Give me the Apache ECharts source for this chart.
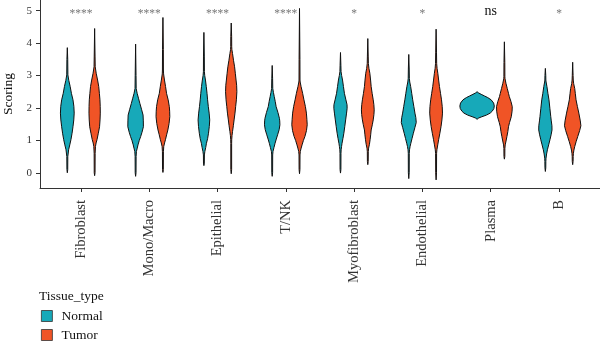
<!DOCTYPE html>
<html>
<head>
<meta charset="utf-8">
<script src="https://cdn.jsdelivr.net/npm/echarts@6/dist/echarts.min.js"></script>
<style>
  html, body { margin: 0; padding: 0; background: #fff; }
  #chart { width: 600px; height: 344px; }
</style>
</head>
<body>
<div id="chart"></div>
<script>
// Cell types along the x axis
const categories = ['Fibroblast', 'Mono/Macro', 'Epithelial', 'T/NK', 'Myofibroblast', 'Endothelial', 'Plasma', 'B'];
const groups = ['Normal', 'Tumor'];
// Normal vs Tumor test result for each cell type
const significance = ['****', '****', '****', '****', '*', '*', 'ns', '*'];
const yTicks = [0, 1, 2, 3, 4, 5];

// Density profile of each violin: [score, density] from the lowest to the highest score
const normalProfiles = [
  [[0.0,0],[0.1,0.05],[0.5,0.06],[0.71,0.16],[0.86,0.3],[1.02,0.44],[1.22,0.58],[1.42,0.69],[1.63,0.79],[1.84,0.84],[2.05,0.8],[2.25,0.69],[2.45,0.5],[2.66,0.35],[2.85,0.18],[3.02,0.07],[3.5,0.05],[3.86,0]],
  [[-0.11,0],[0,0.05],[0.5,0.06],[0.66,0.1],[0.76,0.2],[0.86,0.29],[1.0,0.45],[1.12,0.62],[1.25,0.78],[1.42,0.95],[1.6,0.94],[1.78,0.91],[1.96,0.72],[2.14,0.52],[2.3,0.35],[2.45,0.19],[2.6,0.07],[3.0,0.05],[3.97,0]],
  [[0.22,0],[0.3,0.05],[0.55,0.06],[0.66,0.12],[0.78,0.22],[0.91,0.31],[1.05,0.45],[1.22,0.56],[1.43,0.66],[1.63,0.71],[1.84,0.64],[2.04,0.54],[2.25,0.45],[2.45,0.38],[2.66,0.29],[2.86,0.19],[3.0,0.1],[3.12,0.06],[3.6,0.05],[4.33,0]],
  [[-0.11,0],[0,0.05],[0.55,0.06],[0.66,0.1],[0.78,0.22],[0.91,0.35],[1.04,0.5],[1.17,0.66],[1.33,0.85],[1.48,0.94],[1.6,0.92],[1.68,0.88],[1.86,0.7],[2.04,0.48],[2.2,0.37],[2.35,0.25],[2.48,0.15],[2.6,0.07],[2.9,0.05],[3.31,0]],
  [[-0.01,0],[0.1,0.05],[0.6,0.06],[0.71,0.08],[0.81,0.13],[0.91,0.19],[1.06,0.3],[1.22,0.41],[1.42,0.52],[1.63,0.63],[1.84,0.74],[1.99,0.81],[2.1,0.8],[2.25,0.66],[2.45,0.48],[2.66,0.36],[2.86,0.25],[3.0,0.14],[3.12,0.07],[3.3,0.05],[3.71,0]],
  [[-0.18,0],[0,0.05],[0.6,0.06],[0.71,0.09],[0.81,0.16],[0.91,0.25],[1.06,0.4],[1.22,0.56],[1.4,0.75],[1.55,0.91],[1.7,0.86],[1.84,0.75],[2.04,0.62],[2.25,0.48],[2.45,0.36],[2.66,0.23],[2.8,0.12],[2.91,0.07],[3.2,0.05],[3.65,0]],
  [[1.65,0],[1.69,0.2],[1.72,0.5],[1.78,1.15],[1.84,1.6],[1.9,1.85],[1.98,2.05],[2.06,2.1],[2.15,2.02],[2.25,1.72],[2.32,1.3],[2.37,0.9],[2.42,0.5],[2.46,0.2],[2.5,0]],
  [[0.04,0],[0.15,0.05],[0.35,0.06],[0.45,0.08],[0.58,0.15],[0.71,0.25],[0.86,0.4],[1.02,0.56],[1.17,0.7],[1.32,0.81],[1.45,0.8],[1.6,0.72],[1.73,0.66],[1.99,0.55],[2.25,0.44],[2.45,0.31],[2.66,0.19],[2.8,0.09],[2.86,0.06],[3.0,0.05],[3.22,0]]
];
const tumorProfiles = [
  [[-0.09,0],[0,0.05],[0.6,0.06],[0.81,0.1],[0.92,0.18],[1.02,0.29],[1.22,0.45],[1.42,0.6],[1.63,0.66],[1.84,0.69],[2.05,0.68],[2.25,0.65],[2.45,0.58],[2.66,0.5],[2.86,0.36],[3.07,0.19],[3.27,0.07],[3.6,0.05],[4.45,0]],
  [[0.01,0],[0.1,0.05],[0.65,0.06],[0.81,0.1],[0.92,0.2],[1.02,0.31],[1.17,0.45],[1.32,0.6],[1.52,0.75],[1.73,0.84],[1.9,0.82],[2.04,0.78],[2.25,0.64],[2.45,0.44],[2.66,0.32],[2.86,0.19],[3.05,0.08],[3.17,0.06],[3.8,0.05],[4.79,0]],
  [[-0.03,0],[0.1,0.05],[0.9,0.05],[1.02,0.06],[1.15,0.1],[1.27,0.16],[1.45,0.26],[1.63,0.35],[1.84,0.46],[2.04,0.54],[2.25,0.63],[2.5,0.69],[2.7,0.66],[2.86,0.59],[3.07,0.5],[3.27,0.41],[3.47,0.28],[3.68,0.16],[3.8,0.08],[3.89,0.06],[4.2,0.05],[4.62,0]],
  [[-0.03,0],[0.1,0.05],[0.55,0.06],[0.66,0.1],[0.76,0.2],[0.86,0.31],[1.0,0.48],[1.12,0.66],[1.3,0.85],[1.48,0.94],[1.65,0.9],[1.84,0.84],[2.04,0.72],[2.25,0.54],[2.45,0.38],[2.66,0.19],[2.8,0.08],[2.86,0.06],[3.5,0.05],[5.07,0]],
  [[0.25,0],[0.35,0.05],[0.65,0.06],[0.76,0.1],[0.88,0.2],[1.02,0.28],[1.17,0.35],[1.32,0.41],[1.48,0.55],[1.63,0.66],[1.8,0.75],[1.94,0.78],[2.1,0.74],[2.25,0.66],[2.45,0.53],[2.66,0.41],[2.86,0.34],[3.07,0.25],[3.22,0.14],[3.37,0.07],[3.6,0.05],[4.14,0]],
  [[-0.22,0],[0,0.05],[0.6,0.06],[0.71,0.1],[0.86,0.2],[1.02,0.31],[1.22,0.46],[1.42,0.6],[1.63,0.71],[1.84,0.78],[2.04,0.75],[2.25,0.66],[2.45,0.54],[2.66,0.41],[2.86,0.31],[3.07,0.21],[3.22,0.12],[3.37,0.07],[3.7,0.05],[4.43,0]],
  [[0.42,0],[0.5,0.05],[0.75,0.06],[0.86,0.1],[0.98,0.2],[1.12,0.31],[1.27,0.42],[1.42,0.5],[1.55,0.63],[1.73,0.84],[1.9,0.94],[2.04,0.96],[2.2,0.8],[2.35,0.6],[2.45,0.5],[2.6,0.35],[2.76,0.19],[2.9,0.08],[2.96,0.06],[3.4,0.05],[4.04,0]],
  [[0.25,0],[0.35,0.05],[0.5,0.06],[0.6,0.09],[0.7,0.15],[0.81,0.25],[0.96,0.42],[1.12,0.62],[1.3,0.85],[1.45,1.0],[1.6,0.93],[1.84,0.75],[2.04,0.58],[2.25,0.41],[2.45,0.32],[2.6,0.25],[2.75,0.12],[2.86,0.07],[3.0,0.05],[3.41,0]]
];

const FONT = 'Liberation Serif';
const COLORS = { Normal: '#17A9B9', Tumor: '#F05426' };
const DODGE = 0.2;               // horizontal offset of each group from the category centre
const WIDTH_PER_DENSITY = 0.12;  // half-width (x units) for one unit of density

function violinSeries(name, profiles, offset) {
  return {
    type: 'custom',
    name: name,
    itemStyle: { color: COLORS[name], borderColor: '#222', borderWidth: 0.8 },
    data: profiles.map((p, i) => [i + 1, p[p.length - 1][0]]),
    encode: { x: 0, y: 1 },
    renderItem: function (params, api) {
      const prof = profiles[params.dataIndex];
      const xc = api.value(0) + offset;
      const right = prof.map(([y, d]) => api.coord([xc + d * WIDTH_PER_DENSITY, y]));
      const left = prof.slice().reverse().map(([y, d]) => api.coord([xc - d * WIDTH_PER_DENSITY, y]));
      return {
        type: 'polygon',
        shape: { points: right.concat(left) },
        style: { fill: COLORS[name], stroke: '#111', lineWidth: 1 }
      };
    },
    silent: true
  };
}

const tickIdx = categories.map((c, i) => i + 1);
const axisLineStyle = { color: '#333', width: 1 };

const option = {
  animation: false,
  backgroundColor: '#fff',
  title: {
    text: 'Tissue_type',
    left: 39, top: 289, padding: 0,
    textStyle: { fontFamily: FONT, fontSize: 13.5, fontWeight: 'normal', color: '#111' }
  },
  legend: {
    data: groups,
    orient: 'vertical',
    left: 41, top: 309,
    padding: 0,
    itemWidth: 11, itemHeight: 11, itemGap: 5,
    icon: 'rect',
    itemStyle: { borderColor: '#333', borderWidth: 0.8 },
    textStyle: { fontFamily: FONT, fontSize: 13.5, color: '#111', padding: [0, 0, 0, 4] }
  },
  grid: { left: 40, right: 0, top: 0, bottom: 156, containLabel: false, outerBoundsMode: 'none' },
  xAxis: {
    type: 'value',
    min: 0.4, max: 8.6,
    axisLine: { show: true, onZero: false, lineStyle: axisLineStyle },
    axisTick: { show: true, length: 4, customValues: tickIdx, lineStyle: axisLineStyle },
    axisLabel: {
      customValues: tickIdx,
      formatter: v => categories[Math.round(v) - 1],
      rotate: 90, margin: 12,
      fontFamily: FONT, fontSize: 14.5, color: '#333'
    },
    splitLine: { show: false }
  },
  yAxis: {
    type: 'value',
    min: -0.47, max: 5.33,
    name: 'Scoring',
    nameLocation: 'middle', nameGap: 23,
    nameTextStyle: { fontFamily: FONT, fontSize: 13.5, color: '#111' },
    axisLine: { show: true, onZero: false, lineStyle: axisLineStyle },
    axisTick: { show: true, length: 4, customValues: yTicks, lineStyle: axisLineStyle },
    axisLabel: {
      customValues: yTicks, margin: 8,
      fontFamily: FONT, fontSize: 11, color: '#333'
    },
    splitLine: { show: false }
  },
  series: [
    violinSeries('Normal', normalProfiles, -DODGE),
    violinSeries('Tumor', tumorProfiles, DODGE),
    {
      type: 'custom',
      name: 'signif',
      data: significance.map((s, i) => [i + 1, 5]),
      encode: { x: 0, y: 1 },
      silent: true,
      renderItem: function (params, api) {
        const p = api.coord([api.value(0), api.value(1)]);
        const s = significance[params.dataIndex];
        const ns = s === 'ns';
        return {
          type: 'text',
          style: {
            text: s, x: p[0], y: ns ? p[1] + 1 : p[1] + 3,
            align: 'center', verticalAlign: 'middle',
            fontFamily: FONT, fontSize: ns ? 14 : 11.5,
            fill: ns ? '#111' : '#777'
          }
        };
      }
    }
  ]
};

const chart = echarts.init(document.getElementById('chart'), null, { renderer: 'canvas' });
chart.setOption(option);
</script>
</body>
</html>
